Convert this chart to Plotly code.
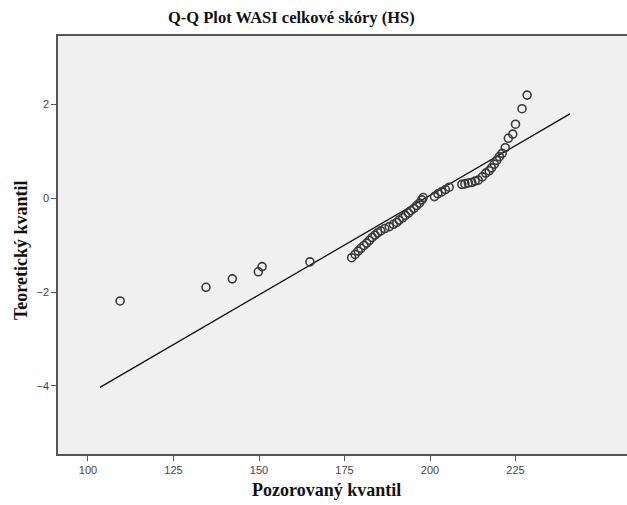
import plotly.graph_objects as go

observed = [109.4, 134.5, 142.2, 149.8, 150.9, 164.9,
            177.1, 178.1, 179.0, 179.8, 180.7, 181.5, 182.3, 183.1, 183.9, 184.7,
            185.6, 186.8, 188.1, 189.3, 190.3, 191.0, 192.0, 192.8, 193.7, 194.4,
            195.3, 196.1, 196.9, 197.6, 198.0,
            201.3, 202.3, 203.4, 204.5, 205.6,
            209.3, 210.2, 211.2, 212.2, 213.2, 214.1, 215.3, 216.3, 217.3, 218.0,
            218.8, 219.5, 220.3, 221.1, 222.0, 222.9, 224.2, 225.0, 226.9, 228.4]
theoretical = [-2.19, -1.90, -1.72, -1.57, -1.46, -1.36,
               -1.27, -1.20, -1.13, -1.07, -1.01, -0.96, -0.90, -0.84, -0.79, -0.74,
               -0.70, -0.65, -0.61, -0.56, -0.52, -0.47, -0.42, -0.37, -0.32, -0.27,
               -0.22, -0.16, -0.11, -0.04, 0.01,
               0.03, 0.09, 0.13, 0.18, 0.23,
               0.29, 0.30, 0.32, 0.33, 0.36, 0.38, 0.45, 0.53, 0.58, 0.64,
               0.72, 0.80, 0.88, 0.95, 1.07, 1.27, 1.36, 1.57, 1.90, 2.19]

# Reference line endpoints
line_x = [103.5, 240.9]
line_y = [-4.03, 1.79]

x_ticks = [100, 125, 150, 175, 200, 225]
y_ticks = [2, 0, -2, -4]

W, H = 627, 505
L, R, T, B = 58, 0, 36, 51

fig = go.Figure()
fig.add_trace(go.Scatter(x=line_x, y=line_y, mode="lines",
                         line=dict(color="#111111", width=1.3), hoverinfo="skip"))
fig.add_trace(go.Scatter(x=observed, y=theoretical, mode="markers",
                         marker=dict(symbol="circle-open", size=8, color="#3a3a3a",
                                     line=dict(width=1.6))))

axis_common = dict(showgrid=False, zeroline=False, showline=True, linecolor="#555555",
                   linewidth=1.5, ticks="outside", ticklen=5, tickcolor="#555555",
                   tickwidth=1, tickfont=dict(family="Liberation Sans, Arial", size=11,
                                              color="#444444"))
fig.update_xaxes(range=[91.23, 257.6], tickvals=x_ticks, mirror=True, **axis_common)
fig.update_yaxes(range=[-5.447, 3.447], tickvals=y_ticks, **axis_common)

pw = W - L - R
ph = H - T - B
def px(xp):
    return (xp - L) / pw
def py(yp):
    return (H - B - yp) / ph

serif = "Liberation Serif, Times New Roman, serif"
fig.add_annotation(text="<b>Q-Q Plot WASI celkové skóry (HS)</b>", xref="paper", yref="paper",
                   x=px(291), y=py(17), xanchor="center", yanchor="middle", showarrow=False,
                   font=dict(family=serif, size=16.5, color="#111111"))
fig.add_annotation(text="<b>Pozorovaný kvantil</b>", xref="paper", yref="paper",
                   x=px(326), y=py(490), xanchor="center", yanchor="middle", showarrow=False,
                   font=dict(family=serif, size=18, color="#111111"))
fig.add_annotation(text="<b>Teoretický kvantil</b>", xref="paper", yref="paper",
                   x=px(21), y=py(250), xanchor="center", yanchor="middle", showarrow=False,
                   textangle=-90, font=dict(family=serif, size=18, color="#111111"))

fig.update_layout(width=W, height=H, margin=dict(l=L, r=R, t=T, b=B, pad=0),
                  paper_bgcolor="white", plot_bgcolor="#f0f0f0", showlegend=False)

fig.write_html("out.html")
